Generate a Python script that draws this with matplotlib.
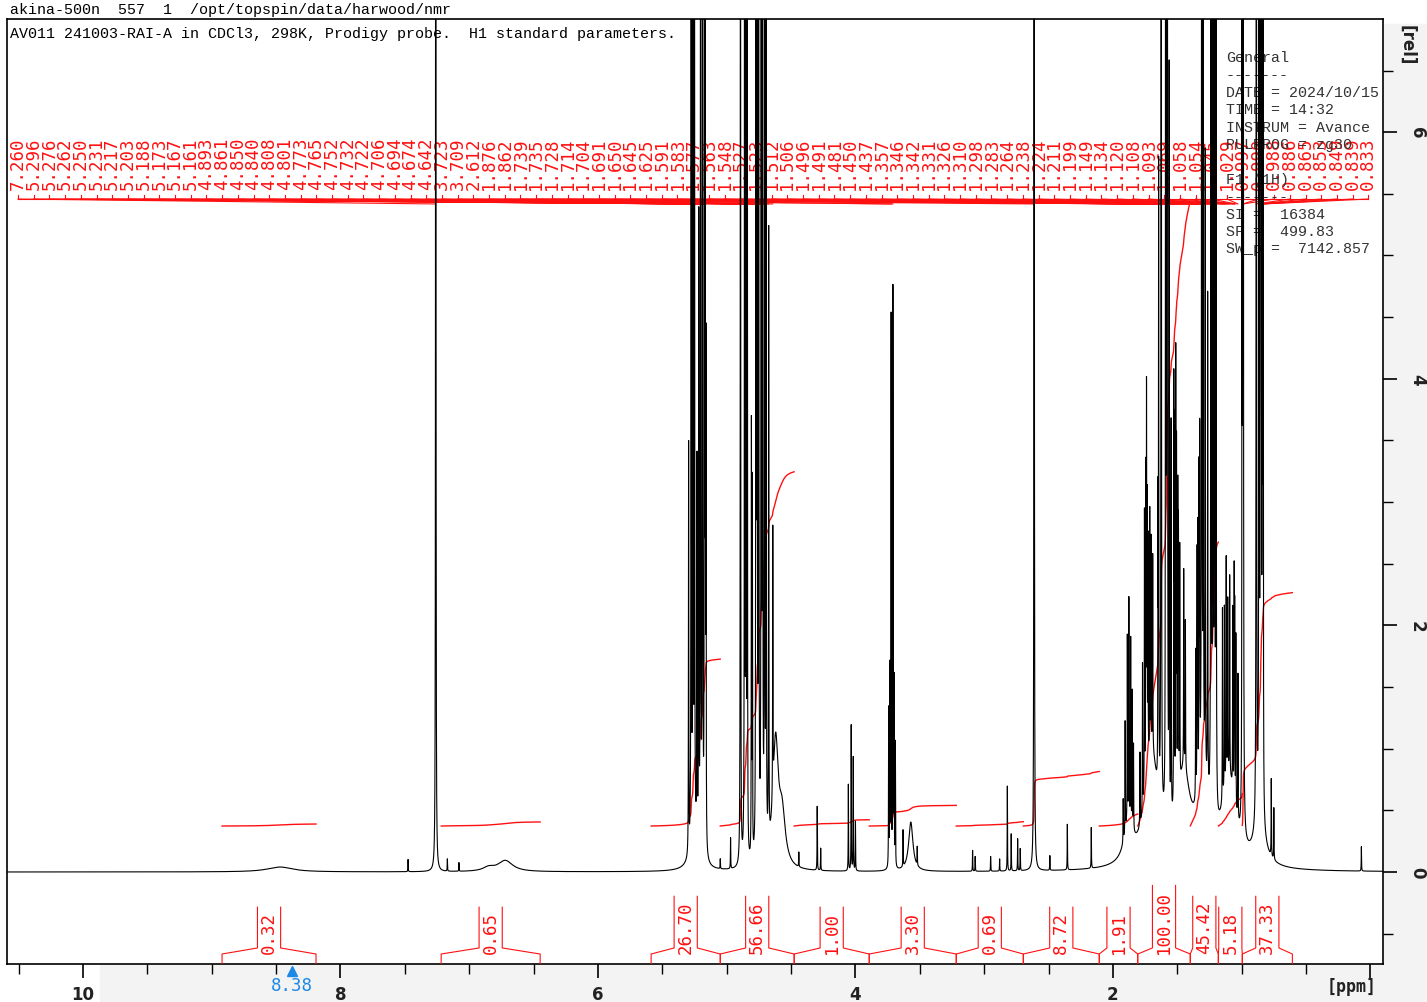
import numpy as np
import matplotlib.pyplot as plt
from matplotlib.patches import Rectangle
from matplotlib.ticker import MultipleLocator

W, H = 1427, 1003

# sharp lines of the 1H spectrum: ppm / height [rel]
line_ppm = [7.475, 7.260, 7.170, 7.080,
            5.296, 5.276, 5.262, 5.250, 5.231, 5.217, 5.203, 5.188, 5.173, 5.167, 5.161,
            5.050, 4.970,
            4.893, 4.861, 4.850, 4.840, 4.808, 4.801, 4.773, 4.765, 4.752, 4.732, 4.722,
            4.706, 4.694, 4.674, 4.642,
            4.440, 4.297, 4.270, 4.055, 4.033, 4.017, 4.000,
            3.742, 3.733, 3.723, 3.709, 3.700, 3.690, 3.630, 3.520,
            3.090, 3.070, 2.950, 2.880, 2.820, 2.790, 2.740, 2.720, 2.612, 2.490,
            2.354, 2.168,
            1.920, 1.905, 1.888, 1.876, 1.862, 1.850, 1.840,
            1.790, 1.770, 1.755, 1.745, 1.739, 1.735, 1.728, 1.714, 1.704, 1.691,
            1.650, 1.645, 1.625, 1.591, 1.583, 1.577, 1.563, 1.548, 1.527, 1.523,
            1.512, 1.506, 1.496, 1.491, 1.481, 1.450, 1.437,
            1.357, 1.346, 1.342, 1.331, 1.326, 1.310, 1.298, 1.283, 1.264,
            1.238, 1.224, 1.211, 1.199, 1.149, 1.134, 1.120, 1.108, 1.093,
            1.069, 1.058, 1.054, 1.045, 1.029, 0.997, 0.990, 0.988,
            0.886, 0.865, 0.853, 0.849, 0.839, 0.833, 0.770, 0.750, 0.070]
line_height = [0.10, 20, 0.10, 0.07,
               3.35, 12, 15, 9, 3.0, 5, 14, 16, 9, 6.5, 4,
               0.08, 0.25,
               14, 16, 12, 8, 3.5, 3, 12, 16, 18, 14, 16,
               12, 9, 5, 2.2,
               0.12, 0.52, 0.18, 0.7, 1.2, 0.92, 0.4,
               1.3, 1.6, 4.55, 4.68, 1.5, 1.0, 0.30, 0.15,
               0.17, 0.12, 0.12, 0.10, 0.69, 0.30, 0.26, 0.18, 20, 0.12,
               0.37, 0.33,
               0.35, 0.9, 1.5, 1.8, 1.5, 1.1, 0.7,
               0.6, 1.2, 2.3, 2.5, 3.0, 2.0, 1.8, 2.0, 1.7, 1.6,
               2.2, 5, 20, 9, 20, 12, 6, 3.2, 3.3, 2.9,
               3.6, 2.8, 2.4, 2.1, 1.9, 1.6, 1.2,
               1.2, 1.8, 2.0, 2.4, 2.7, 20, 7, 5, 4,
               20, 20, 18, 12, 1.6, 1.5, 1.8, 1.4, 1.6,
               1.5, 1.8, 1.5, 1.4, 1.2, 6, 20, 14,
               20, 14, 20, 16, 9, 7, 0.63, 0.42, 0.20]
line_hw = 0.0013

# broad humps: ppm / height / half width
broad_ppm = [8.47, 6.85, 6.72, 5.24, 4.62, 4.57, 3.57, 1.88, 1.70, 1.45, 1.30, 1.10, 0.86]
broad_height = [0.04, 0.03, 0.09, 0.25, 1.0, 0.4, 0.40, 0.3, 0.9, 0.7, 0.6, 0.7, 0.3]
broad_hw = [0.12, 0.05, 0.07, 0.04, 0.025, 0.03, 0.02, 0.04, 0.06, 0.06, 0.05, 0.06, 0.05]

# peak picking labels
peak_labels = [7.260, 5.296, 5.276, 5.262, 5.250, 5.231, 5.217, 5.203, 5.188, 5.173,
               5.167, 5.161, 4.893, 4.861, 4.850, 4.840, 4.808, 4.801, 4.773, 4.765,
               4.752, 4.732, 4.722, 4.706, 4.694, 4.674, 4.642,
               3.723, 3.709, 2.612, 1.876, 1.862, 1.739, 1.735, 1.728, 1.714, 1.704,
               1.691, 1.650, 1.645, 1.625, 1.591, 1.583,
               1.577, 1.563, 1.548, 1.527, 1.523, 1.512, 1.506, 1.496, 1.491, 1.481,
               1.450, 1.437, 1.357, 1.346, 1.342, 1.331, 1.326, 1.310, 1.298, 1.283, 1.264,
               1.238, 1.224, 1.211, 1.199, 1.149, 1.134, 1.120, 1.108, 1.093, 1.069,
               1.058, 1.054, 1.045, 1.029, 0.997, 0.990, 0.988, 0.886, 0.865, 0.853,
               0.849, 0.839, 0.833]

# integral regions (ppm) and values
integ_start = [8.920, 7.218, 5.587, 5.050, 4.476, 3.893, 3.217, 2.696, 2.106, 1.807, 1.399, 1.181, 0.995]
integ_end = [8.190, 6.449, 5.050, 4.476, 3.893, 3.217, 2.696, 2.106, 1.807, 1.399, 1.181, 0.995, 0.606]
integ_value = [0.32, 0.65, 26.70, 56.66, 1.00, 3.30, 0.69, 8.72, 1.91, 100.00, 45.42, 5.18, 37.33]

cursor_ppm = 8.38

params = ["General", "-------", "DATE = 2024/10/15", "TIME = 14:32", "INSTRUM = Avance",
          "PULPROG = zg30", "", "F1 (1H)", "-------", "SI =  16384", "SF =  499.83",
          "SW_p =  7142.857"]

RED = "#ff1010"
MONO = "DejaVu Sans Mono"

# build spectrum
ppm = np.linspace(10.59, -0.10, 27000)
spec = np.zeros_like(ppm)
for p, h in zip(line_ppm, line_height):
    spec += h / (1 + ((ppm - p) / line_hw) ** 2)
for p, h, w in zip(broad_ppm, broad_height, broad_hw):
    spec += h / (1 + ((ppm - p) / w) ** 2)

fig = plt.figure(figsize=(W / 100, H / 100), dpi=100)
fig.patches.append(Rectangle((100 / W, 0), 1 - 100 / W, 37 / H, transform=fig.transFigure,
                             color="#f3f3f3", zorder=-5))
fig.patches.append(Rectangle((1384 / W, 0), 1 - 1384 / W, 1 - 25 / H, transform=fig.transFigure,
                             color="#f3f3f3", zorder=-5))

ax = fig.add_axes([7 / W, 1 - 965 / H, 1376 / W, 945 / H])
ax.set_xlim(10.5905, -0.098)
ax.set_ylim(-0.746, 6.918)

ax.plot(ppm, spec, color="black", lw=0.8, zorder=5)

# integrals
base = 0.373
for a, b, v in zip(integ_start, integ_end, integ_value):
    m = (ppm <= a) & (ppm >= b)
    cum = np.cumsum(spec[m])
    cum = cum / cum[-1]
    ax.plot(ppm[m], base + v / 100 * 5.07 * cum, color=RED, lw=1.0, zorder=4)

    # bracket + value below the spectrum
    xc = (a + b) / 2
    hw = 0.09
    y0, y1, y2 = -0.746, -0.665, -0.616
    txt = "%.2f" % v
    top = -0.657 + len(txt) * 0.088 + 0.02
    ax.plot([a, a, xc + hw, xc + hw], [y0, y1, y2, top], color=RED, lw=0.8, zorder=3)
    ax.plot([b, b, xc - hw, xc - hw], [y0, y1, y2, top], color=RED, lw=0.8, zorder=3)
    ax.text(xc, -0.657, txt, rotation=90, ha="center", va="bottom", color=RED,
            fontsize=12.5, family=MONO, zorder=3)

# peak labels
label_x = np.linspace(10.505, 0.016, len(peak_labels))
y_line = 5.458
ax.plot([label_x[0], label_x[-1]], [y_line, y_line], color=RED, lw=0.8, zorder=3)
for lx, pv in zip(label_x, peak_labels):
    ax.plot([lx, lx], [y_line, y_line + 0.035], color=RED, lw=0.8, zorder=3)
    ax.plot([lx, pv], [y_line, y_line - 0.04], color=RED, lw=0.8, zorder=3)
    ax.text(lx, 5.54, "%.3f" % pv, rotation=90, ha="center", va="bottom", color=RED,
            fontsize=12.5, family=MONO, zorder=2)

# header texts
fig.text(10 / W, 1 - 10 / H, "akina-500n  557  1  /opt/topspin/data/harwood/nmr",
         family="Liberation Mono", fontsize=10.8, va="center", ha="left")
ax.text(10 / W, 1 - 34 / H, "AV011 241003-RAI-A in CDCl3, 298K, Prodigy probe.  H1 standard parameters.",
        transform=fig.transFigure, family="Liberation Mono", fontsize=10.8, va="center", ha="left", zorder=3)
for i, s in enumerate(params):
    ax.text(1226 / W, 1 - (58 + 17.4 * i) / H, s, transform=fig.transFigure,
            family="Liberation Mono", fontsize=10.8, va="center", ha="left", color="#333333", zorder=3)

# axes styling
for sp in ax.spines.values():
    sp.set_linewidth(1.2)
ax.set_xticks([10, 8, 6, 4, 2, 0])
ax.set_xticklabels(["10", "8", "6", "4", "2", ""])
ax.xaxis.set_minor_locator(MultipleLocator(0.5))
ax.tick_params(axis="x", which="major", length=10, width=1.2, labelsize=12, pad=5)
ax.tick_params(axis="x", which="minor", length=7, width=1.0)
for t in ax.get_xticklabels():
    t.set_fontweight("bold")
    t.set_color("#222222")

ax.yaxis.tick_right()
ax.set_yticks([0, 2, 4, 6])
ax.yaxis.set_minor_locator(MultipleLocator(0.5))
ax.tick_params(axis="y", which="major", length=10, width=1.2, labelsize=12, pad=8)
ax.tick_params(axis="y", which="minor", length=7, width=1.0)
for t in ax.get_yticklabels():
    t.set_rotation(270)
    t.set_va("center")
    t.set_fontweight("bold")
    t.set_color("#222222")

fig.text(1407 / W, 1 - 45 / H, "[rel]", rotation=270, ha="center", va="center",
         fontsize=12, fontweight="bold", color="#222222")
fig.text(1352 / W, 1 - 987 / H, "[ppm]", ha="center", va="center",
         fontsize=12, fontweight="bold", color="#222222", family=MONO)

# cursor readout
ax.plot([cursor_ppm], [-0.80], marker="^", color="#1e88e5", ms=7, clip_on=False, zorder=6)
ax.text(cursor_ppm, -0.915, "%.2f" % cursor_ppm, ha="center", va="center", color="#1e88e5",
        fontsize=12.5, family=MONO, clip_on=False)

fig.savefig("out.png", dpi=100)
